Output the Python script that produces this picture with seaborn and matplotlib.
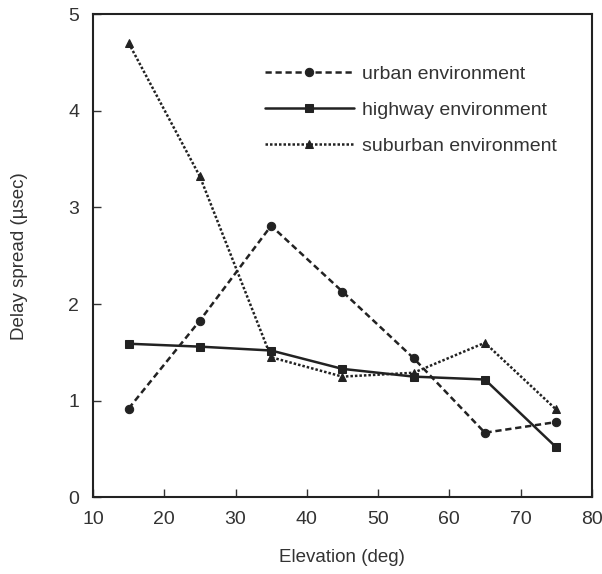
import numpy as np
import pandas as pd
import seaborn as sns
import matplotlib.pyplot as plt

elevation = [15, 25, 35, 45, 55, 65, 75]
urban = [0.92, 1.83, 2.81, 2.13, 1.44, 0.67, 0.78]
highway = [1.59, 1.56, 1.52, 1.33, 1.25, 1.22, 0.52]
suburban = [4.70, 3.32, 1.45, 1.25, 1.29, 1.60, 0.91]

sns.set_style('white')
plt.rcParams['font.family'] = ['Liberation Sans', 'DejaVu Sans']

fig = plt.figure(figsize=(6.02, 5.74), dpi=100)
ax = fig.add_axes([0.1545, 0.1333, 0.8285, 0.8423])

series = [
    ('urban environment', urban, (0, (2.5, 1.5)), 'o'),
    ('highway environment', highway, '-', 's'),
    ('suburban environment', suburban, (0, (1, 0.8)), '^'),
]
for name, vals, ls, mk in series:
    df = pd.DataFrame({'Elevation': elevation, 'Delay': vals})
    sns.lineplot(data=df, x='Elevation', y='Delay', ax=ax, color='#222222',
                 linestyle=ls, marker=mk, markersize=6, linewidth=1.8,
                 markeredgecolor='#222222', label=name)

ax.set_xlim(10, 80)
ax.set_ylim(0, 5)
ax.set_xticks(range(10, 81, 10))
ax.set_yticks(range(0, 6))
ax.tick_params(axis='both', direction='in', length=6, width=1, labelsize=14,
               colors='#333333', bottom=True, left=True)
ax.tick_params(axis='x', pad=10)
ax.tick_params(axis='y', pad=10)
for s in ax.spines.values():
    s.set_color('#222222')
    s.set_linewidth(1.5)
ax.set_xlabel('Elevation (deg)', fontsize=13.5, color='#333333', labelpad=15)
ax.set_ylabel('Delay spread (\u00b5sec)', fontsize=13.5, color='#333333', labelpad=29)

leg = ax.legend(loc='upper right', frameon=False, fontsize=14, handlelength=4.6,
                handletextpad=0.4, labelspacing=0.95, bbox_to_anchor=(0.965, 0.93))
for t in leg.get_texts():
    t.set_color('#333333')

fig.savefig('out.png', dpi=100)
